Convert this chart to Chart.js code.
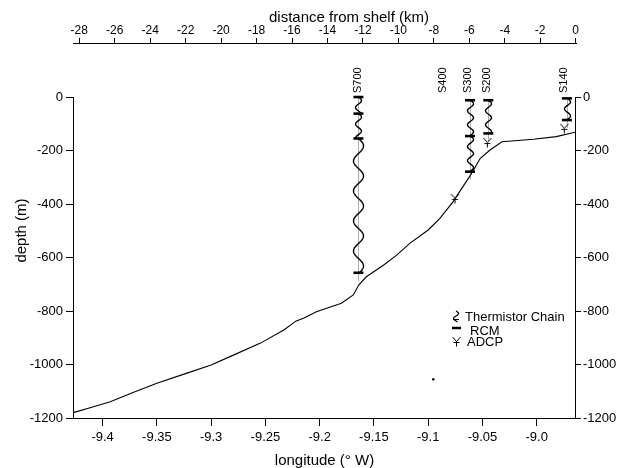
<!DOCTYPE html>
<html>
<head>
<meta charset="utf-8">
<script src="https://cdn.jsdelivr.net/npm/chart.js@4.4.1/dist/chart.umd.min.js"></script>
<style>
body { margin: 0; background: #fff; }
#wrap { width: 629px; height: 468px; }
</style>
</head>
<body>
<div id="wrap"><canvas id="myChart" width="629" height="468"></canvas></div>
<script>
// perfil del fondo (longitud, profundidad en m)
var bottomLon = [-9.427, -9.41, -9.393, -9.372, -9.35, -9.325, -9.30, -9.279, -9.255, -9.233, -9.222,
    -9.215, -9.203, -9.180, -9.169, -9.164, -9.157, -9.141, -9.129, -9.117, -9.100, -9.089, -9.077,
    -9.068, -9.061, -9.052, -9.043, -9.032, -9.003, -8.982, -8.963];
var bottomDepth = [-1180, -1160, -1139, -1105, -1070, -1036, -1002, -964, -921, -871, -838,
    -827, -803, -771, -740, -703, -672, -628, -591, -547, -497, -453, -391,
    -335, -292, -229, -198, -167, -158, -148, -130];

// estaciones (etiquetas)
var stationNames = ['S700', 'S400', 'S300', 'S200', 'S140'];
var stationLon = [-9.165, -9.086, -9.063, -9.046, -8.975];

// cadenas de termistores y RCM (profundidades de cada RCM por cadena)
var chainLon = [-9.1643, -9.0615, -9.0446, -8.9722];
var chainRcm = [[0, -62, -155, -657], [-12, -146, -279], [-12, -136], [-5, -86]];

// ADCP
var adcpLon = [-9.0753, -9.0455, -8.9746];
var adcpDepth = [-379, -170, -117];

// punto suelto
var strayLon = [-9.0953];
var strayDepth = [-1055];

// ticks
var lonTicks = [-9.4, -9.35, -9.3, -9.25, -9.2, -9.15, -9.1, -9.05, -9.0];
var distTicks = [-28, -26, -24, -22, -20, -18, -16, -14, -12, -10, -8, -6, -4, -2, 0];
var depthTicks = [0, -200, -400, -600, -800, -1000, -1200];

var fuente = '"Liberation Sans", Arial, Helvetica, sans-serif';
Chart.defaults.font.family = fuente;
Chart.defaults.color = '#000';

const adcpImg = document.createElement('canvas');
adcpImg.width = 11; adcpImg.height = 11;
(function () {
    const c = adcpImg.getContext('2d');
    c.strokeStyle = '#000';
    c.lineWidth = 1;
    c.beginPath();
    c.moveTo(1.5, 1); c.lineTo(5.5, 5.5); c.lineTo(9.5, 1);
    c.moveTo(5.5, 5.5); c.lineTo(5.5, 10.5);
    c.moveTo(2.5, 6.5); c.lineTo(8.5, 6.5);
    c.stroke();
})();

const rcmData = [];
chainLon.forEach((lon, i) => {
    chainRcm[i].forEach(d => rcmData.push({ x: lon, y: d }));
});

const onda = (ctx, px, y0, y1, amp, len) => {
    ctx.beginPath();
    for (let yy = y0; yy <= y1; yy += 0.5) {
        const xx = px + amp * Math.sin((yy - y0) / len * 2 * Math.PI);
        if (yy === y0) ctx.moveTo(xx, yy); else ctx.lineTo(xx, yy);
    }
    ctx.stroke();
};

const dibujos = {
    id: 'dibujos',
    beforeDatasetsDraw(chart) {
        const ctx = chart.ctx;
        const xs = chart.scales.x, ys = chart.scales.y;
        ctx.save();
        chainLon.forEach((lon, i) => {
            const px = Math.round(xs.getPixelForValue(lon)) + 0.5;
            const r = chainRcm[i];
            const top = ys.getPixelForValue(r[0]);
            const bot = ys.getPixelForValue(r[r.length - 1]);
            ctx.strokeStyle = '#999';
            ctx.lineWidth = 0.8;
            ctx.beginPath();
            ctx.moveTo(px, top); ctx.lineTo(px, bot + 8);
            ctx.stroke();
            ctx.strokeStyle = '#000';
            ctx.lineWidth = 1.4;
            for (let k = 0; k < r.length - 1; k++) {
                const a = ys.getPixelForValue(r[k]), b = ys.getPixelForValue(r[k + 1]);
                if (b - a > 80) onda(ctx, px, a, b, 5, 30);
                else onda(ctx, px, a, b, 3, 14);
            }
        });
        ctx.restore();
    },
    afterDatasetsDraw(chart) {
        const ctx = chart.ctx;
        const xs = chart.scales.x, ys = chart.scales.y, area = chart.chartArea;
        ctx.save();
        // ejes verticales 0..-1200
        ctx.strokeStyle = '#000';
        ctx.lineWidth = 1;
        ctx.beginPath();
        ctx.moveTo(area.left + 0.5, ys.getPixelForValue(0));
        ctx.lineTo(area.left + 0.5, ys.getPixelForValue(-1200));
        ctx.moveTo(area.right - 0.5, ys.getPixelForValue(0));
        ctx.lineTo(area.right - 0.5, ys.getPixelForValue(-1200));
        ctx.stroke();

        // etiquetas de estaciones
        ctx.fillStyle = '#000';
        ctx.font = '11px ' + fuente;
        stationNames.forEach((n, i) => {
            ctx.save();
            ctx.translate(xs.getPixelForValue(stationLon[i]), ys.getPixelForValue(0) - 4);
            ctx.rotate(-Math.PI / 2);
            ctx.textAlign = 'left';
            ctx.textBaseline = 'middle';
            ctx.fillText(n, 0, 0);
            ctx.restore();
        });

        // titulo del eje superior
        ctx.font = '15px ' + fuente;
        ctx.textAlign = 'center';
        ctx.textBaseline = 'middle';
        ctx.fillText('distance from shelf (km)', 349, 18);

        // leyenda
        const lx = 456;
        ctx.font = '13px ' + fuente;
        ctx.textAlign = 'left';
        ctx.lineWidth = 1.2;
        onda(ctx, lx, 311, 322, 2.5, 10);
        ctx.lineWidth = 1;
        ctx.beginPath(); ctx.moveTo(lx - 3, 319.5); ctx.lineTo(lx + 3, 319.5); ctx.stroke();
        ctx.fillText('Thermistor Chain', 465, 317);
        ctx.lineWidth = 2.5;
        ctx.beginPath(); ctx.moveTo(lx - 4, 328); ctx.lineTo(lx + 5, 328); ctx.stroke();
        ctx.fillText('RCM', 470, 331);
        ctx.drawImage(adcpImg, lx - 5, 336);
        ctx.fillText('ADCP', 467, 342);
        ctx.restore();
    }
};

const ejeTicks = (lista) => (s) => { s.ticks = lista.map(v => ({ value: v })); };

var ctx = document.getElementById('myChart').getContext('2d');
var myChart = new Chart(ctx, {
    type: 'scatter',
    data: {
        datasets: [{
            label: 'fondo',
            data: bottomLon.map((v, i) => ({ x: v, y: bottomDepth[i] })),
            showLine: true,
            borderColor: '#000',
            borderWidth: 1.1,
            pointRadius: 0,
            tension: 0
        }, {
            label: 'RCM',
            data: rcmData,
            pointStyle: 'line',
            pointRadius: 5,
            borderColor: '#000',
            borderWidth: 2.6,
            clip: false
        }, {
            label: 'ADCP',
            data: adcpLon.map((v, i) => ({ x: v, y: adcpDepth[i] })),
            pointStyle: adcpImg,
            pointRadius: 5
        }, {
            label: 'punto',
            data: strayLon.map((v, i) => ({ x: v, y: strayDepth[i] })),
            pointRadius: 1.2,
            backgroundColor: '#000',
            borderWidth: 0
        }]
    },
    options: {
        responsive: false,
        animation: false,
        layout: { padding: 0 },
        plugins: {
            legend: { display: false },
            tooltip: { enabled: false }
        },
        scales: {
            x: {
                type: 'linear', position: 'bottom',
                min: -9.4273, max: -8.9638,
                afterBuildTicks: ejeTicks(lonTicks),
                afterFit: s => { s.height = 50; },
                border: { display: true, color: '#000', width: 1 },
                grid: { drawOnChartArea: false, tickLength: 8, color: '#000' },
                ticks: {
                    font: { size: 13 }, padding: 4, maxRotation: 0, autoSkip: false,
                    callback: v => { let s = v.toFixed(2); return s.endsWith('0') ? s.slice(0, -1) : s; }
                },
                title: { display: true, text: 'longitude (° W)', font: { size: 15, lineHeight: 1 }, padding: { top: 0, bottom: 0 } }
            },
            x2: {
                type: 'linear', position: 'top', axis: 'x',
                min: -28.355, max: 0.02,
                afterBuildTicks: ejeTicks(distTicks),
                afterFit: s => { s.height = 43; },
                border: { display: true, color: '#000', width: 1 },
                grid: { drawOnChartArea: false, tickLength: 5, color: '#000' },
                ticks: { font: { size: 12 }, padding: 0, maxRotation: 0, autoSkip: false, callback: v => String(v) }
            },
            y: {
                type: 'linear', position: 'left',
                min: -1200, max: 202,
                afterBuildTicks: ejeTicks(depthTicks),
                afterFit: s => { s.width = 73; },
                border: { display: false },
                grid: { drawOnChartArea: false, tickLength: 7, color: '#000' },
                ticks: { font: { size: 13 }, padding: 3, autoSkip: false, callback: v => String(v) },
                title: { display: true, text: 'depth (m)', font: { size: 15, lineHeight: 1.2 }, padding: { top: 13, bottom: 0 } }
            },
            y2: {
                type: 'linear', position: 'right', axis: 'y',
                min: -1200, max: 202,
                afterBuildTicks: ejeTicks(depthTicks),
                afterFit: s => { s.width = 53; },
                border: { display: false },
                grid: { drawOnChartArea: false, tickLength: 5, color: '#000' },
                ticks: { font: { size: 13 }, padding: 2, autoSkip: false, callback: v => String(v) }
            }
        }
    },
    plugins: [dibujos]
});
</script>
</body>
</html>
